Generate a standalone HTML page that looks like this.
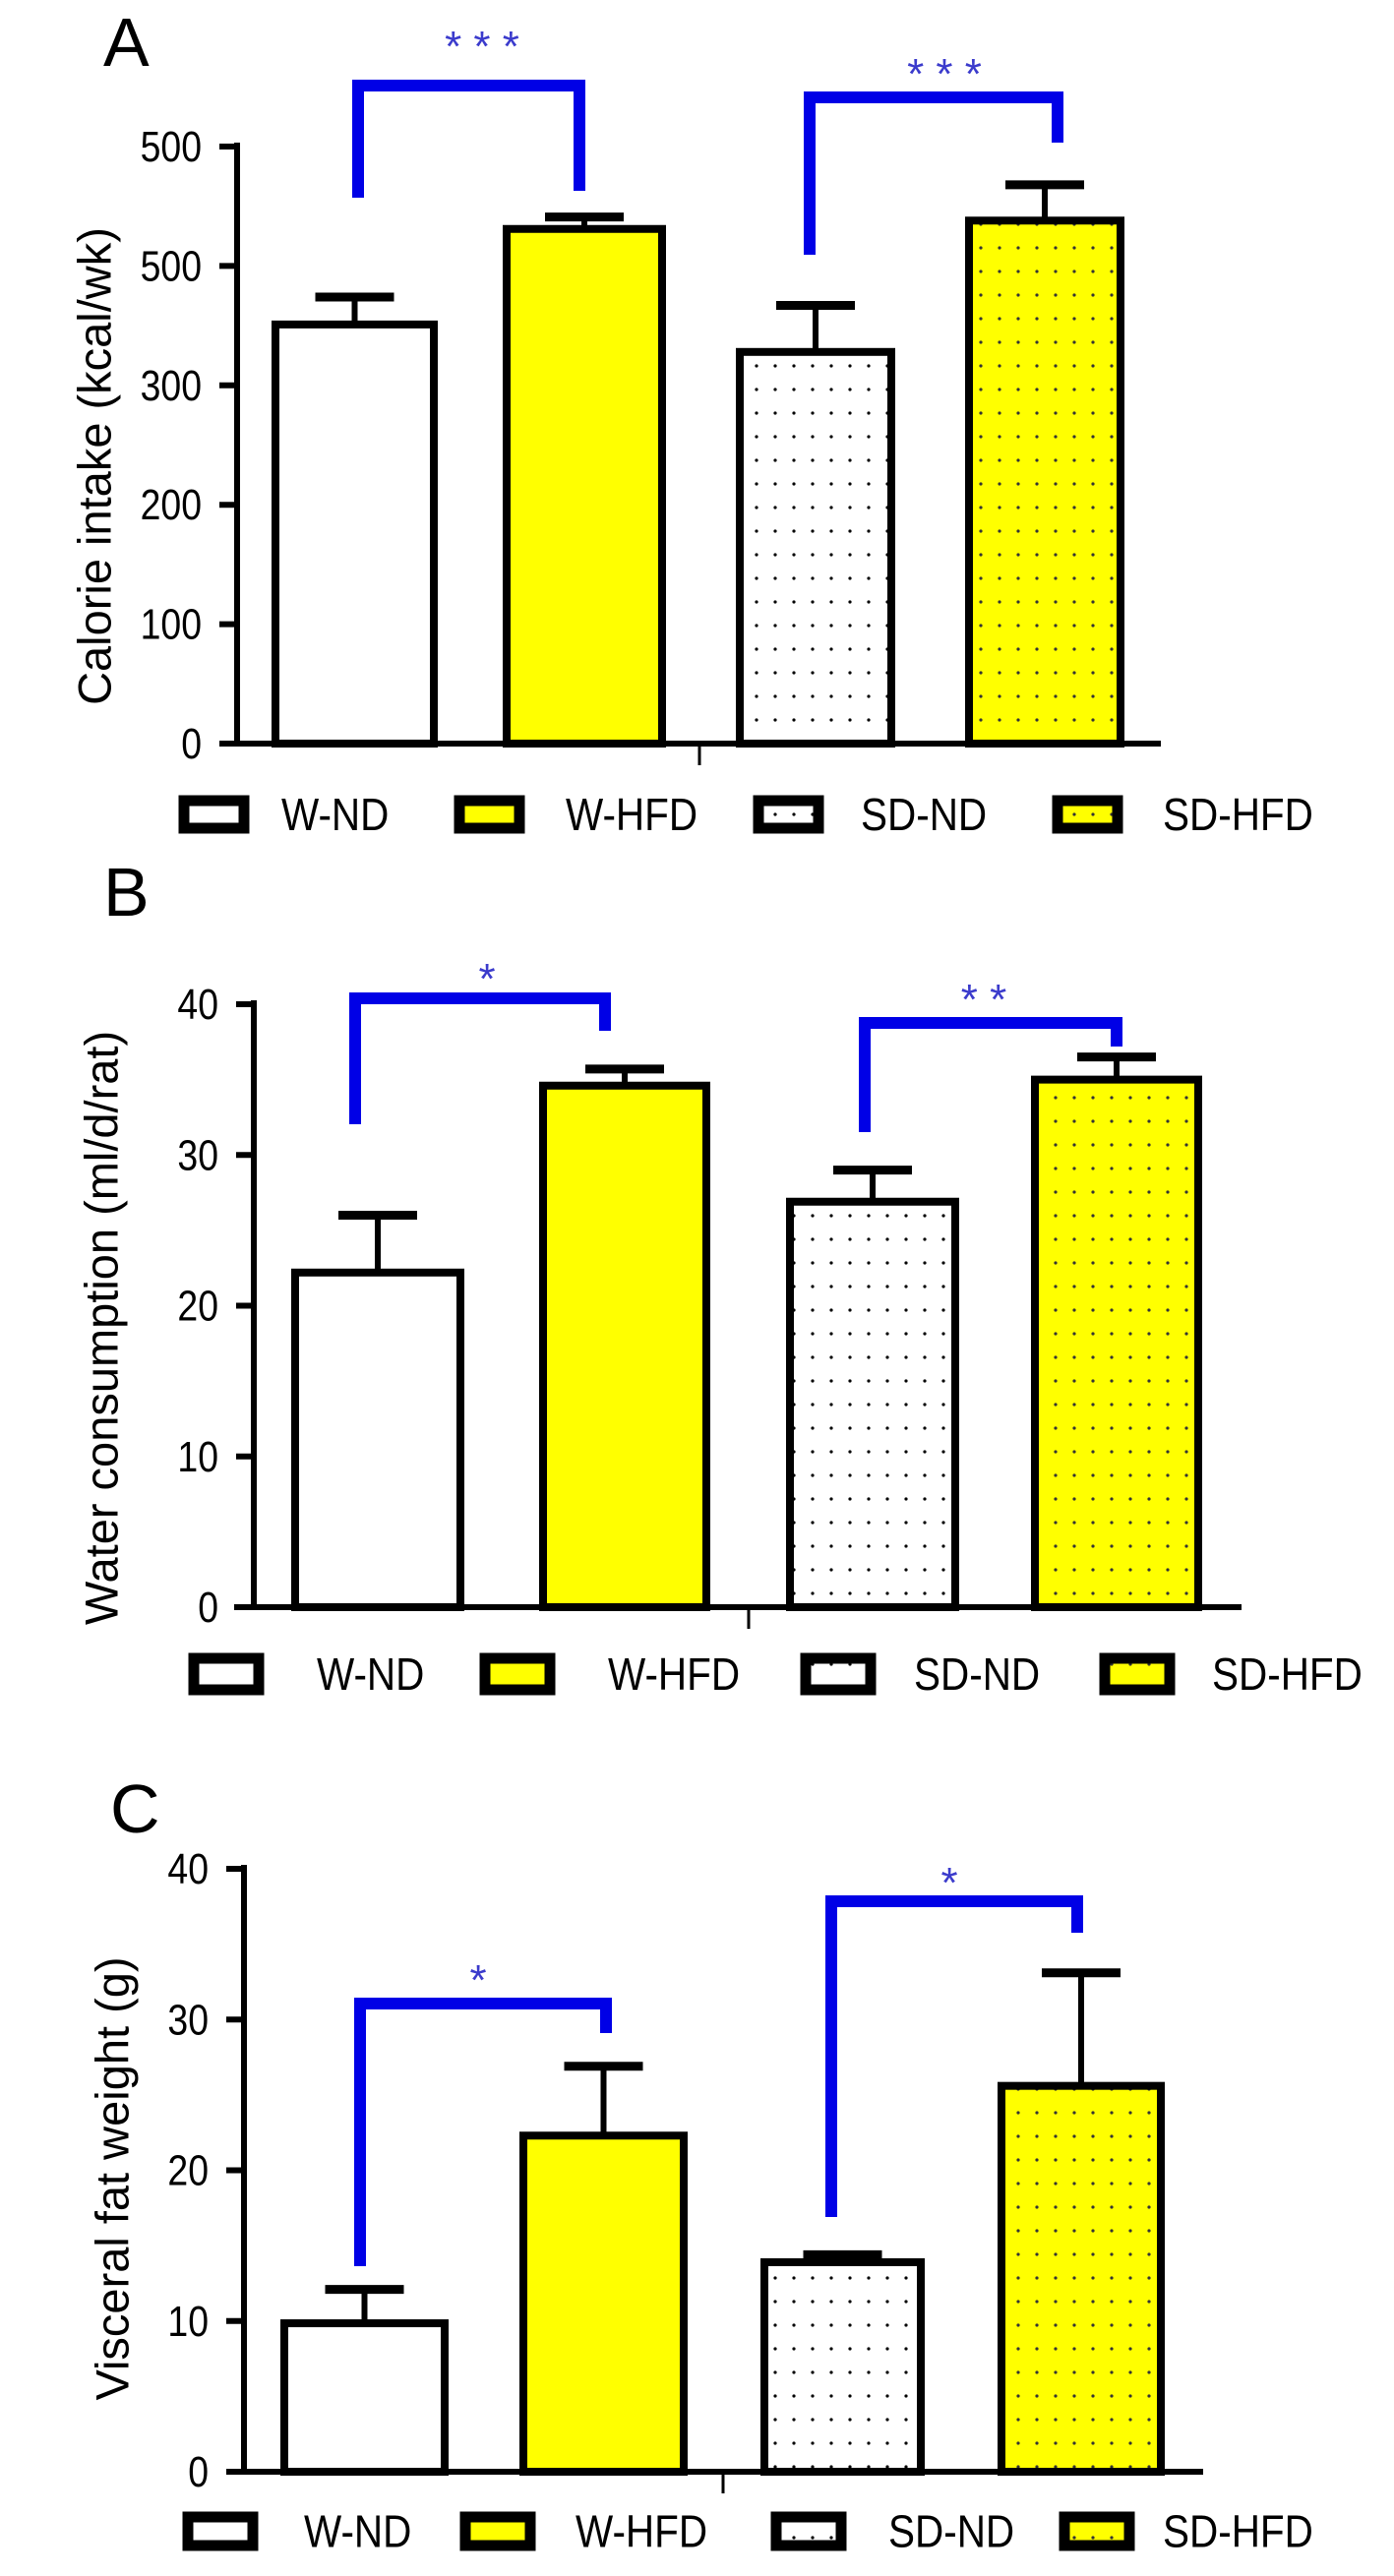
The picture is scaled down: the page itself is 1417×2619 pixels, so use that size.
<!DOCTYPE html>
<html><head><meta charset="utf-8"><style>
html,body{margin:0;padding:0;background:#fff;}
svg{display:block;font-family:"Liberation Sans",sans-serif;}
</style></head><body>
<svg id="chart" width="1417" height="2619" viewBox="0 0 1417 2619" xmlns="http://www.w3.org/2000/svg">
<defs>
<pattern id="dotsW" width="19" height="24" patternUnits="userSpaceOnUse"><rect width="19" height="24" fill="#fff"/><circle cx="9" cy="12" r="1.6" fill="#000"/></pattern>
<pattern id="dotsY" width="19" height="24" patternUnits="userSpaceOnUse"><rect width="19" height="24" fill="#ffff00"/><circle cx="9" cy="12" r="1.6" fill="#333"/></pattern>
</defs>
</svg>
<script>
// ---- data ----
const categories = ["W-ND","W-HFD","SD-ND","SD-HFD"];
const calorieMeans = [351, 431, 328, 438];
const calorieErr = [374, 441, 367, 468];
const waterMeans = [22.2, 34.6, 26.9, 35.0];
const waterErr = [26.0, 35.7, 29.0, 36.5];
const fatMeans = [9.85, 22.3, 13.9, 25.6];
const fatErr = [12.1, 26.9, 14.4, 33.1];
const calorieTickValues = [0,100,200,300,400,500];
const calorieTickLabels = ["0","100","200","300","500","500"];
const tenTickValues = [0,10,20,30,40];
const tenTickLabels = ["0","10","20","30","40"];
const calorieStars = ["*  *  *","*  *  *"];
const waterStars = ["*","* *"];
const fatStars = ["*","*"];

const NS="http://www.w3.org/2000/svg";
const svg=document.getElementById('chart');
function mk(tag,attrs,parent){const e=document.createElementNS(NS,tag);for(const k in attrs)e.setAttribute(k,attrs[k]);(parent||svg).appendChild(e);return e;}
const fills=["#fff","#ffff00","url(#dotsW)","url(#dotsY)"];

const panels=[
 {letter:"A",lx:105,ly:67,title:"Calorie intake (kcal/wk)",tx:100,ty:474,tfs:47,
  ax:241,xs:225,xe:1180,y0:756,yTop:149,max:500,mid:711,
  bars:[[280,441],[515,673],[752,906],[985,1139]],means:calorieMeans,errs:calorieErr,
  ticks:calorieTickValues,labels:calorieTickLabels,stars:calorieStars,
  br:[[364,201,87,589,194,490,40],[823,259,99,1075,145,960,68]],
  leg:{y:809,h:38,boxes:[182,462,766,1070],bw:71,texts:[286,575,875,1182]}},
 {letter:"B",lx:105,ly:931,title:"Water consumption (ml/d/rat)",tx:107,ty:1350,tfs:47,
  ax:258,xs:238,xe:1262,y0:1634,yTop:1021,max:40,mid:761,
  bars:[[300,468],[552,718],[803,971],[1052,1218]],means:waterMeans,errs:waterErr,
  ticks:tenTickValues,labels:tenTickLabels,stars:waterStars,
  br:[[361,1143,1015,615,1048,495,988],[879,1151,1040,1135,1064,1000,1009]],
  leg:{y:1681,h:42,boxes:[192,488,814,1118],bw:76,texts:[322,618,929,1232]}},
 {letter:"C",lx:112,ly:1863,title:"Visceral fat weight (g)",tx:118,ty:2215,tfs:47,
  ax:248,xs:232,xe:1223,y0:2513,yTop:1900,max:40,mid:735,
  bars:[[289,452],[532,695],[777,936],[1018,1180]],means:fatMeans,errs:fatErr,
  ticks:tenTickValues,labels:tenTickLabels,stars:fatStars,
  br:[[366,2304,2037,616,2067,486,2006],[845,2254,1933,1095,1965,965,1907]],
  leg:{y:2554,h:39,boxes:[186,468,784,1077],bw:76,texts:[309,585,903,1182]}}
];

panels.forEach((p,pi)=>{
 const g=mk('g',{});
 
 
 const yS=v=>p.y0-(p.y0-p.yTop)*v/p.max;
 const L=mk('text',{x:p.lx,y:p.ly,'font-size':70,fill:'#000'},g);L.textContent=p.letter;
 
 
 const T=mk('text',{x:p.tx,y:p.ty,'font-size':p.tfs,'text-anchor':'middle',transform:`rotate(-90 ${p.tx} ${p.ty})`,'dominant-baseline':'middle'},g);T.textContent=p.title;
 
 
 p.bars.forEach((b,i)=>{
  const top=yS(p.means[i]), et=yS(p.errs[i]), cx=(b[0]+b[1])/2;
  const st=mk('line',{x1:cx,y1:top,x2:cx,y2:et,stroke:'#000','stroke-width':6},g);
  
  
  const cap=mk('line',{x1:cx-40,y1:et,x2:cx+40,y2:et,stroke:'#000','stroke-width':9},g);
  
  
  const r=mk('rect',{x:b[0],y:top,width:b[1]-b[0],height:p.y0-top,fill:fills[i],stroke:'#000','stroke-width':8},g);
  
  
 });
 const ya=mk('line',{x1:p.ax,y1:p.yTop-4,x2:p.ax,y2:p.y0,stroke:'#000','stroke-width':6},g);
 
 
 const xa=mk('line',{x1:p.xs,y1:p.y0,x2:p.xe,y2:p.y0,stroke:'#000','stroke-width':6},g);
 
 
 const mt=mk('line',{x1:p.mid,y1:p.y0,x2:p.mid,y2:p.y0+22,stroke:'#000','stroke-width':3},g);
 
 
 p.ticks.forEach((v,i)=>{
  const y=yS(v);
  const tk=mk('line',{x1:p.ax-18,y1:y,x2:p.ax,y2:y,stroke:'#000','stroke-width':6},g);
  
  
  const tx=p.ax-36;
  const t=mk('text',{x:0,y:0,'font-size':44,'text-anchor':'end',transform:`translate(${tx} ${y+15}) scale(0.85 1)`},g);t.textContent=p.labels[i];
  
  
 });
 p.br.forEach((b,i)=>{
  const pa=mk('path',{d:`M${b[0]} ${b[1]} L${b[0]} ${b[2]} L${b[3]} ${b[2]} L${b[3]} ${b[4]}`,fill:'none',stroke:'#0000e6','stroke-width':12},g);
  
  
  const s=mk('text',{x:b[5],y:b[6]+22,'font-size':44,'text-anchor':'middle',fill:'#3b3bcc','xml:space':'preserve'},g);s.textContent=p.stars[i];
  
  
 });
 const lg=p.leg;
 categories.forEach((c,i)=>{
  const bx=mk('rect',{x:lg.boxes[i]+5,y:lg.y+5,width:lg.bw-10,height:lg.h-10,fill:fills[i],stroke:'#000','stroke-width':11},g);
  
  
  const t=mk('text',{x:0,y:0,'font-size':46,transform:`translate(${lg.texts[i]} ${lg.y+lg.h/2+16}) scale(0.88 1)`},g);t.textContent=c;
  
  
 });
});
</script>
</body></html>
